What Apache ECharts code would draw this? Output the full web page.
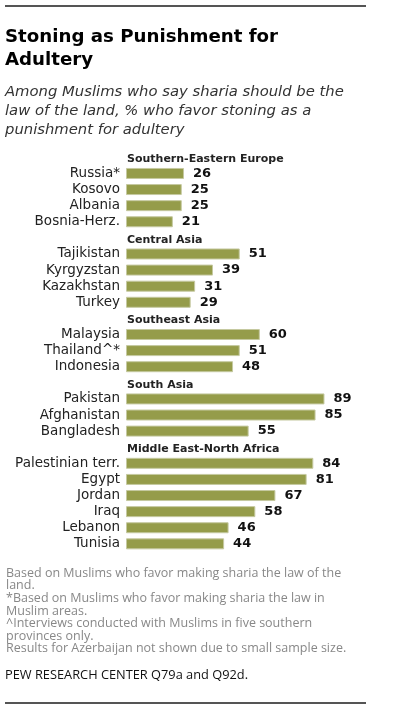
<!DOCTYPE html>
<html><head><meta charset="utf-8">
<script src="https://cdn.jsdelivr.net/npm/echarts@6/dist/echarts.min.js"></script>
<style>html,body{margin:0;padding:0;background:#fff}#c{width:395px;height:707px}</style>
</head><body><div id="c"></div>
<script>
const regions = ['Southern-Eastern Europe', 'Central Asia', 'Southeast Asia', 'South Asia', 'Middle East-North Africa'];
const europeCountries = ['Russia*', 'Kosovo', 'Albania', 'Bosnia-Herz.'];
const europeValues = [26, 25, 25, 21];
const centralAsiaCountries = ['Tajikistan', 'Kyrgyzstan', 'Kazakhstan', 'Turkey'];
const centralAsiaValues = [51, 39, 31, 29];
const southeastAsiaCountries = ['Malaysia', 'Thailand^*', 'Indonesia'];
const southeastAsiaValues = [60, 51, 48];
const southAsiaCountries = ['Pakistan', 'Afghanistan', 'Bangladesh'];
const southAsiaValues = [89, 85, 55];
const menaCountries = ['Palestinian terr.', 'Egypt', 'Jordan', 'Iraq', 'Lebanon', 'Tunisia'];
const menaValues = [84, 81, 67, 58, 46, 44];

const groups = [
  [europeCountries, europeValues],
  [centralAsiaCountries, centralAsiaValues],
  [southeastAsiaCountries, southeastAsiaValues],
  [southAsiaCountries, southAsiaValues],
  [menaCountries, menaValues]
];

const cats = [];
const seriesData = [];
groups.forEach(function (g, gi) {
  cats.push('__h' + gi);
  seriesData.push({
    value: 0,
    itemStyle: { borderWidth: 0, color: 'rgba(0,0,0,0)' },
    label: {
      show: true, position: 'insideLeft', distance: 1, offset: [0, 2],
      formatter: regions[gi],
      fontFamily: 'DejaVu Sans', fontWeight: 'bold', fontSize: 11, color: '#222'
    }
  });
  g[0].forEach(function (name, i) {
    cats.push(name);
    seriesData.push(g[1][i]);
  });
});

const chart = echarts.init(document.getElementById('c'), null, { renderer: 'canvas' });
chart.setOption({
  animation: false,
  backgroundColor: '#fff',
  title: [
    {
      text: 'Stoning as Punishment for\nAdultery',
      left: 5, top: 26, padding: 0,
      textStyle: { fontFamily: 'DejaVu Sans', fontWeight: 'bold', fontSize: 18.2, lineHeight: 23, color: '#000' }
    },
    {
      text: 'Among Muslims who say sharia should be the\nlaw of the land, % who favor stoning as a\npunishment for adultery',
      left: 5, top: 83, padding: 0,
      textStyle: { fontFamily: 'DejaVu Sans', fontStyle: 'italic', fontWeight: 'normal', fontSize: 14.8, lineHeight: 19, color: '#333' }
    },
    {
      text: 'Based on Muslims who favor making sharia the law of the\nland.\n*Based on Muslims who favor making sharia the law in\nMuslim areas.\n^Interviews conducted with Muslims in five southern\nprovinces only.\nResults for Azerbaijan not shown due to small sample size.',
      left: 6, top: 567, padding: 0,
      textStyle: { fontFamily: 'Open Sans', fontWeight: 'normal', fontSize: 12.5, lineHeight: 12.6, color: '#888' }
    },
    {
      text: 'PEW RESEARCH CENTER Q79a and Q92d.',
      left: 5, top: 669, padding: 0,
      textStyle: { fontFamily: 'Open Sans', fontWeight: 'normal', fontSize: 12.8, color: '#111' }
    }
  ],
  graphic: [
    { type: 'rect', shape: { x: 5, y: 5, width: 361, height: 2 }, style: { fill: '#555' } },
    { type: 'rect', shape: { x: 5, y: 702, width: 361, height: 2 }, style: { fill: '#555' } }
  ],
  grid: { left: 126, right: 46, top: 149.3, height: 402.6, containLabel: false },
  xAxis: {
    type: 'value', min: 0, max: 100, show: false
  },
  yAxis: {
    type: 'category', data: cats, inverse: true,
    axisLine: { show: false }, axisTick: { show: false }, splitLine: { show: false },
    axisLabel: {
      interval: 0, margin: 6, fontFamily: 'DejaVu Sans', fontSize: 13.5, color: '#222',
      formatter: function (v) { return v.indexOf('__h') === 0 ? '' : v; }
    }
  },
  series: [{
    type: 'bar',
    data: seriesData,
    barWidth: 11,
    itemStyle: { color: '#959C4A', borderColor: '#c5c9a0', borderWidth: 1 },
    label: {
      show: true, position: 'right', distance: 9,
      fontFamily: 'DejaVu Sans', fontWeight: 'bold', fontSize: 13, color: '#111'
    }
  }]
});
</script></body></html>
